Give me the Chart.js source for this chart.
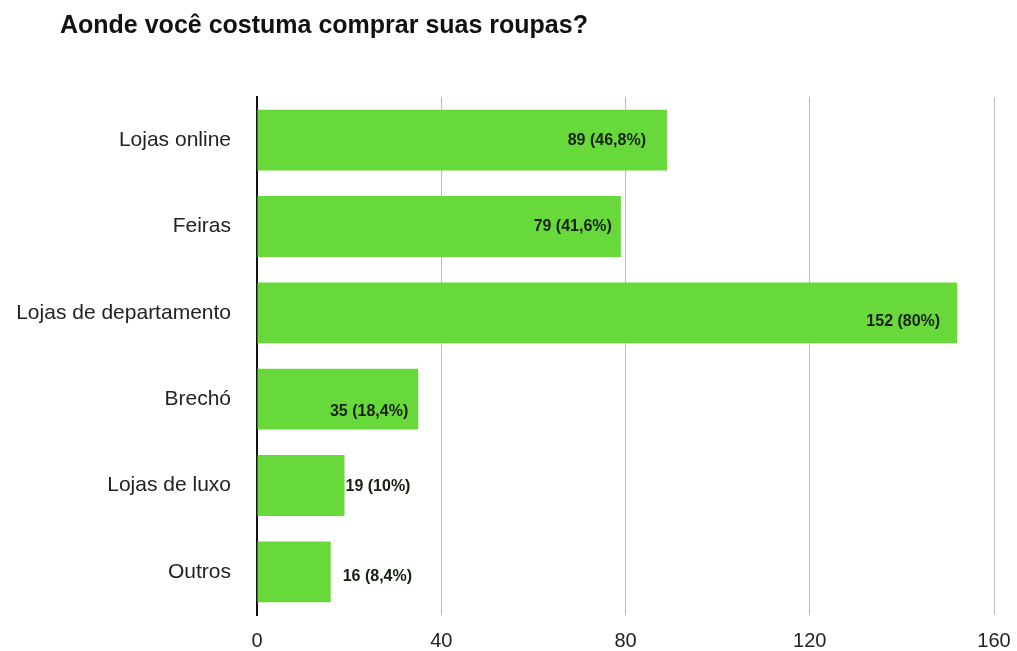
<!DOCTYPE html>
<html lang="pt-BR">
<head>
    <meta charset="UTF-8">
    <title>Aonde você costuma comprar suas roupas?</title>
    <script src="https://cdn.jsdelivr.net/npm/chart.js"></script>
    <style>
        html, body { margin: 0; padding: 0; background: #fff; }
        #wrap { width: 1017px; height: 651px; }
    </style>
</head>
<body>
    <div id="wrap">
        <canvas id="myChart" width="1017" height="651"></canvas>
    </div>
<script>
    // dados da pesquisa
    const categorias = ['Lojas online', 'Feiras', 'Lojas de departamento', 'Brechó', 'Lojas de luxo', 'Outros'];
    const respostas = [89, 79, 152, 35, 19, 16];
    const percentuais = ['46,8%', '41,6%', '80%', '18,4%', '10%', '8,4%'];
    const ticksX = [0, 40, 80, 120, 160];

    // ajustes finos dos rótulos (dx, dy em px)
    const rotuloDx = [-7, 5, -3, 4, -3, 8];
    const rotuloDy = [0, 0, 9, 12, 1, 5];

    const fonte = '"Liberation Sans", Arial, Helvetica, sans-serif';

    // título no canto superior esquerdo
    const titulo = {
        id: 'titulo',
        afterDraw(chart) {
            const ctx = chart.ctx;
            ctx.save();
            ctx.font = 'bold 25px ' + fonte;
            ctx.fillStyle = '#111';
            ctx.textBaseline = 'middle';
            ctx.textAlign = 'left';
            ctx.fillText('Aonde você costuma comprar suas roupas?', 60, 26);
            ctx.restore();
        }
    };

    // rótulos "valor (percentual)" dentro ou fora da barra
    const rotulos = {
        id: 'rotulos',
        afterDatasetsDraw(chart) {
            const ctx = chart.ctx;
            const meta = chart.getDatasetMeta(0);
            ctx.save();
            ctx.font = 'bold 16px ' + fonte;
            ctx.fillStyle = '#152010';
            ctx.textBaseline = 'middle';
            meta.data.forEach((bar, i) => {
                const txt = respostas[i] + ' (' + percentuais[i] + ')';
                const w = ctx.measureText(txt).width;
                const largura = bar.x - bar.base;
                if (w + 40 < largura) {
                    ctx.textAlign = 'right';
                    ctx.fillText(txt, bar.x - 14 + rotuloDx[i], bar.y + rotuloDy[i]);
                } else {
                    ctx.textAlign = 'left';
                    ctx.fillText(txt, bar.x + 4 + rotuloDx[i], bar.y + rotuloDy[i]);
                }
            });
            ctx.restore();
        }
    };

    // sem margens extras das escalas: a área do gráfico fica só com o padding do layout
    function semMargens(scale) {
        scale.paddingLeft = 0;
        scale.paddingRight = 0;
        scale.paddingTop = 0;
        scale.paddingBottom = 0;
    }

    const data = {
        labels: categorias,
        datasets: [{
            data: respostas,
            backgroundColor: 'rgb(103, 217, 58)',
            borderWidth: 0,
            categoryPercentage: 1,
            barPercentage: 0.705
        }]
    };

    const config = {
        type: 'bar',
        data: data,
        options: {
            indexAxis: 'y',
            responsive: false,
            animation: false,
            layout: { padding: { top: 97, right: 23, left: 0, bottom: 0 } },
            plugins: {
                legend: { display: false },
                tooltip: { enabled: false }
            },
            scales: {
                x: {
                    min: 0,
                    max: 160,
                    afterBuildTicks(scale) {
                        scale.ticks = ticksX.map(v => ({ value: v }));
                    },
                    afterFit(scale) {
                        scale.height = 36;
                        semMargens(scale);
                    },
                    grid: { color: '#bdbdbd', lineWidth: 1, drawTicks: false },
                    border: { display: false },
                    ticks: {
                        padding: 14,
                        color: '#222',
                        font: { family: fonte, size: 20 }
                    }
                },
                y: {
                    afterFit(scale) {
                        scale.width = 257;
                        semMargens(scale);
                    },
                    grid: { display: false, drawTicks: false },
                    border: { display: true, color: '#111', width: 2 },
                    ticks: {
                        padding: 26,
                        color: '#222',
                        font: { family: fonte, size: 21 }
                    }
                }
            }
        },
        plugins: [titulo, rotulos]
    };

    const myChart = new Chart(document.querySelector('#myChart'), config);
</script>
</body>
</html>
